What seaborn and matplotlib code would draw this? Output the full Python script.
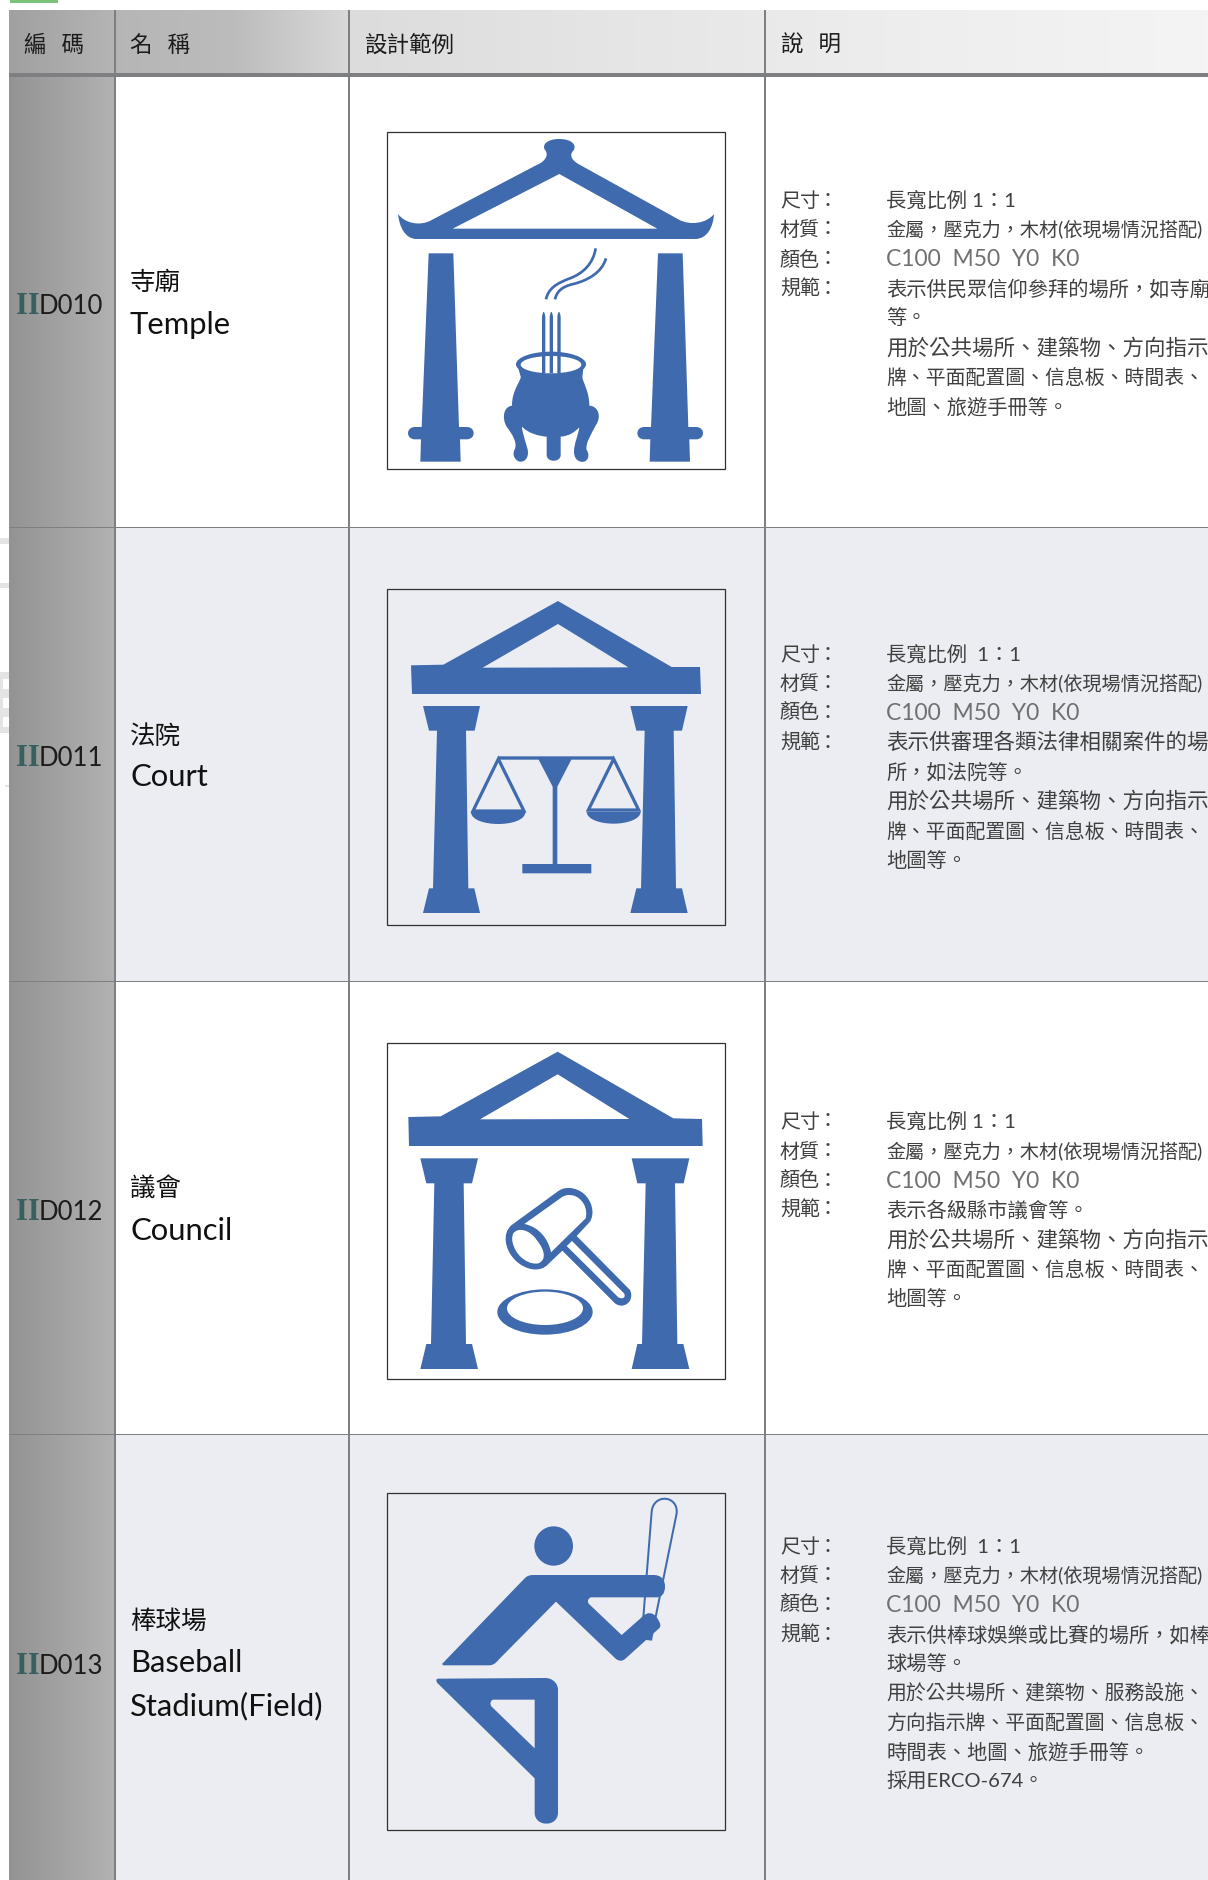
import re
import numpy as np
import matplotlib
matplotlib.use("Agg")
import matplotlib.pyplot as plt
from matplotlib.path import Path
from matplotlib.patches import PathPatch, Rectangle
from matplotlib.transforms import Affine2D
import seaborn as sns

sns.set_theme(style="white")

# ---------- table content ----------
HEADERS = ["編   碼", "名   稱", "設計範例", "說   明"]
CODES = ["D010", "D011", "D012", "D013"]
NAMES = [["寺廟", "Temple"], ["法院", "Court"], ["議會", "Council"], ["棒球場", "Baseball", "Stadium(Field)"]]
LABELS = ["尺寸：", "材質：", "顏色：", "規範："]
DESCS = [
    ["長寬比例 1：1", "金屬，壓克力，木材(依現場情況搭配)", "C100  M50  Y0  K0",
     "表示供民眾信仰參拜的場所，如寺廟", "等。", "用於公共場所、建築物、方向指示",
     "牌、平面配置圖、信息板、時間表、", "地圖、旅遊手冊等。"],
    ["長寬比例  1：1", "金屬，壓克力，木材(依現場情況搭配)", "C100  M50  Y0  K0",
     "表示供審理各類法律相關案件的場", "所，如法院等。", "用於公共場所、建築物、方向指示",
     "牌、平面配置圖、信息板、時間表、", "地圖等。"],
    ["長寬比例 1：1", "金屬，壓克力，木材(依現場情況搭配)", "C100  M50  Y0  K0",
     "表示各級縣市議會等。", "用於公共場所、建築物、方向指示",
     "牌、平面配置圖、信息板、時間表、", "地圖等。"],
    ["長寬比例  1：1", "金屬，壓克力，木材(依現場情況搭配)", "C100  M50  Y0  K0",
     "表示供棒球娛樂或比賽的場所，如棒", "球場等。", "用於公共場所、建築物、服務設施、",
     "方向指示牌、平面配置圖、信息板、", "時間表、地圖、旅遊手冊等。", "採用ERCO-674。"],
]

# ---------- layout ----------
W, H = 1208, 1880
BLUE = "#3f6aad"
LINE = "#7d7f82"
BAND = "#ebedf2"
COL_X = [9, 115, 349, 765]
ROW_Y = [77, 527, 981, 1434, 1880]
ROW_BG = ["white", BAND, "white", BAND]
BOX = [(387, 132, 338, 337), (387, 589, 338, 336), (387, 1043, 338, 336), (387, 1493, 338, 337)]
ICON_ORIGIN = [(370, 120), (370, 575), (370, 1030), (370, 1480)]
CODE_Y = [306, 759, 1212, 1666]
NAME_Y = [[283, 325], [737, 777], [1189, 1231], [1622, 1663, 1706]]
DESC_Y = [[201, 230, 260, 289, 318, 348, 377, 407],
          [655, 684, 713, 743, 772, 801, 831, 860],
          [1122, 1152, 1181, 1210, 1240, 1269, 1298],
          [1547, 1576, 1605, 1635, 1664, 1693, 1722, 1752, 1781]]

CJK = "Noto Sans CJK TC"
MIX = ["Lato", CJK, "DejaVu Sans"]

fig = plt.figure(figsize=(W / 100, H / 100), dpi=100, facecolor="white")
ax = fig.add_axes([0, 0, 1, 1])
ax.axis("off")


def gradient(x0, x1, y0, y1, stops):
    cmap = sns.blend_palette(stops, as_cmap=True)
    ax.imshow(np.linspace(0, 1, 256)[None, :], extent=(x0, x1, y1, y0), aspect="auto",
              cmap=cmap, zorder=1, interpolation="bilinear")


def rect(x0, y0, x1, y1, color, z=1.5):
    ax.add_patch(Rectangle((x0, y0), x1 - x0, y1 - y0, fc=color, ec="none", zorder=z))


# ---------- stray marks from the page ----------
rect(10, 0, 58, 3, "#7cc27a")
for x0, y0, x1, y1 in [(0, 538, 9, 544), (0, 583, 9, 588), (0, 672, 9, 733), (5, 785, 9, 787)]:
    rect(x0, y0, x1, y1, "#e4e4e4")
for y0, y1 in [(679, 689), (698, 708), (717, 727)]:
    rect(3, y0, 9, y1, "#ffffff", z=1.6)

# ---------- cells ----------
for i in range(4):
    rect(115, ROW_Y[i], W, ROW_Y[i + 1], ROW_BG[i])
gradient(9, 115, 77, H, ["#939393", "#b2b2b2"])
gradient(9, 349, 10, 73, ["#a0a0a0", "#b6b6b6", "#bcbcbc", "#d9d9d9"])
gradient(349, W, 10, 73, ["#dcdcdc", "#e6e6e6", "#eeeeee", "#f4f4f4"])
rect(9, 73, W, 77, LINE, z=3)
for x in COL_X[1:]:
    rect(x - 1, 10, x + 1, H, LINE, z=3)
for y in ROW_Y[1:4]:
    rect(9, y - 0.5, W, y + 1, LINE, z=3)

# ---------- header ----------
for txt, x in zip(HEADERS, [24, 130, 365, 781]):
    ax.text(x, 45, txt, family=CJK, fontsize=16.2, color="#1c1c1c", va="center", ha="left", zorder=5)


# ---------- pictograms (outlines in 3x crop units of each box) ----------
def parse(d):
    toks = re.findall(r"[MLCQZ]|-?\d+\.?\d*", d)
    verts, codes, i, cmd = [], [], 0, None
    while i < len(toks):
        if toks[i] in "MLCQZ":
            cmd = toks[i]
            i += 1
            if cmd == "Z":
                verts.append((0, 0))
                codes.append(Path.CLOSEPOLY)
            continue
        n = {"M": 1, "L": 1, "C": 3, "Q": 2}[cmd]
        code = {"M": Path.MOVETO, "L": Path.LINETO, "C": Path.CURVE4, "Q": Path.CURVE3}[cmd]
        for _ in range(n):
            verts.append((float(toks[i]), float(toks[i + 1])))
            codes.append(code)
            i += 2
    return Path(verts, codes)


def ell(cx, cy, rx, ry):
    k = 0.5523
    return (f"M {cx-rx} {cy} C {cx-rx} {cy-k*ry} {cx-k*rx} {cy-ry} {cx} {cy-ry} "
            f"C {cx+k*rx} {cy-ry} {cx+rx} {cy-k*ry} {cx+rx} {cy} "
            f"C {cx+rx} {cy+k*ry} {cx+k*rx} {cy+ry} {cx} {cy+ry} "
            f"C {cx-k*rx} {cy+ry} {cx-rx} {cy+k*ry} {cx-rx} {cy} Z")


def shape(origin, d, color=BLUE, dx=0, z=4):
    tr = Affine2D().translate(dx, 0).scale(1 / 3).translate(*origin) + ax.transData
    ax.add_patch(PathPatch(parse(d), fc=color, ec="none", transform=tr, zorder=z))


def stroke(origin, d, lw=2.7, z=4, join="miter"):
    tr = Affine2D().scale(1 / 3).translate(*origin) + ax.transData
    ax.add_patch(PathPatch(parse(d), fc="none", ec=BLUE, lw=lw * 0.72, transform=tr, zorder=z, joinstyle=join))


for (bx, by, bw, bh) in BOX:
    ax.add_patch(Rectangle((bx, by), bw, bh, fc="none", ec="#303030", lw=0.9, zorder=6))

# temple
o = ICON_ORIGIN[0]
shape(o, "M 84 282 C 105 310 150 320 185 300 L 500 135 C 525 125 538 105 525 90 C 515 75 530 57 568 57 "
         "C 605 57 622 75 610 92 C 597 105 605 120 625 132 L 925 298 C 960 318 1010 310 1032 282 "
         "C 1030 320 1012 357 975 357 L 140 357 C 105 357 88 320 84 282 Z")
shape(o, "M 248 326 L 568 162 L 862 326 Z", "white", z=4.1)
PILLAR = ("M 176 400 L 250 400 L 267 921 L 290 921 C 318 921 318 958 290 958 L 270 958 L 272 1025 L 151 1025 "
          "L 153 958 L 135 958 C 107 958 107 921 135 921 L 155 921 Z")
shape(o, PILLAR)
shape(o, PILLAR, dx=688)
shape(o, "M 452 770 C 455 780 425 810 426 857 C 400 860 395 895 410 920 C 425 940 445 970 433 990 "
         "C 425 1010 440 1025 452 1025 C 470 1025 478 1005 472 985 C 465 960 455 930 456 920 "
         "C 475 940 505 948 530 950 L 530 1005 C 530 1028 572 1028 572 1005 L 572 950 "
         "C 600 948 615 935 628 922 C 625 945 612 970 612 995 C 612 1020 630 1028 642 1025 "
         "C 658 1020 658 1000 650 990 C 645 970 665 940 678 915 C 695 890 685 858 658 857 "
         "C 658 815 640 790 637 772 L 640 745 L 445 745 Z")
shape(o, ell(543, 733, 105, 38))
shape(o, ell(543, 734, 91, 26), "white", z=4.1)
for sx in (521, 544, 567):
    shape(o, f"M {sx-5} 590 Q {sx} 560 {sx+5} 590 L {sx+5} 760 L {sx-5} 760 Z", z=4.2)
stroke(o, "M 677 385 C 670 430 640 460 600 475 C 560 490 535 505 528 538")
stroke(o, "M 708 415 C 695 460 650 482 610 492 C 575 500 560 515 555 538")

# court
o = ICON_ORIGIN[1]
shape(o, "M 123 271 L 220 269 L 564 78 L 905 276 L 990 276 L 993 357 L 126 357 Z")
shape(o, "M 338 278 L 564 147 L 775 277 Z", BAND, z=4.1)
shape(o, "M 159 393 L 330 393 L 314 467 L 288 467 L 295 940 L 313 940 L 330 1014 L 159 1014 L 177 940 "
         "L 189 940 L 201 467 L 177 467 Z")
shape(o, "M 781 393 L 953 393 L 936 467 L 911 467 L 918 940 L 936 940 L 953 1014 L 781 1014 L 799 940 "
         "L 813 940 L 824 467 L 799 467 Z")
shape(o, "M 385 544 L 731 544 L 731 554 L 604 554 L 562 635 L 562 867 L 664 867 L 664 895 L 457 895 "
         "L 457 867 L 548 867 L 548 635 L 506 554 L 385 554 Z")
stroke(o, "M 385 552 L 309 708 L 462 708 Z", lw=3.2)
stroke(o, "M 731 552 L 655 705 L 806 705 Z", lw=3.2)
shape(o, "M 303 711 L 466 711 C 466 735 425 747 385 747 C 345 747 303 735 303 711 Z")
shape(o, "M 650 710 L 812 710 C 812 733 770 746 731 746 C 690 746 650 733 650 710 Z")

# council
o = ICON_ORIGIN[2]
shape(o, "M 115 261 L 212 259 L 563 65 L 910 265 L 996 267 L 998 348 L 117 348 Z")
shape(o, "M 330 268 L 563 133 L 778 267 Z", "white", z=4.1)
shape(o, "M 151 385 L 324 385 L 306 460 L 281 460 L 288 942 L 306 942 L 324 1017 L 151 1017 L 169 942 "
         "L 183 942 L 193 460 L 169 460 Z")
shape(o, "M 785 385 L 958 385 L 941 460 L 915 460 L 922 942 L 940 942 L 958 1017 L 785 1017 L 802 942 "
         "L 816 942 L 827 460 L 802 460 Z")
shape(o, "M 425 585 L 565 483 C 590 465 630 475 650 500 C 670 525 672 555 660 575 L 620 618 L 780 780 "
         "C 790 800 780 825 755 827 C 745 827 735 822 730 815 L 577 662 L 535 702 C 510 730 465 720 435 690 "
         "C 405 660 395 610 425 585 Z")
shape(o, "M 463 582 L 575 502 C 595 488 625 495 640 520 C 650 535 650 552 647 565 L 543 667 "
         "C 535 625 505 590 463 582 Z", "white", z=4.1)
shape(o, "M 430 610 C 445 590 480 600 500 630 C 525 660 530 690 505 700 C 480 705 445 685 432 650 "
         "C 425 635 425 620 430 610 Z", "white", z=4.1)
shape(o, "M 606 633 L 762 790 C 768 800 760 810 745 802 L 590 648 Z", "white", z=4.1)
shape(o, ell(525, 846, 143, 68))
shape(o, ell(525, 835, 114, 50), "white", z=4.1)

# baseball
o = ICON_ORIGIN[3]
shape(o, ell(551, 198, 58, 59))
stroke(o, "M 820 412 L 845 95 C 850 40 925 45 920 100 L 853 430", lw=2.0)
shape(o, "M 216 552 L 462 297 C 470 288 478 285 490 285 L 850 285 C 875 285 885 300 885 320 "
         "C 885 340 875 352 860 352 L 665 352 C 655 352 650 365 657 372 L 755 465 L 815 412 "
         "C 830 395 850 395 862 415 C 872 430 875 440 865 447 L 765 537 C 755 545 748 543 738 537 "
         "L 558 365 L 385 540 C 375 552 368 556 355 556 L 220 556 Z")
shape(o, "M 828 460 L 852 450 L 846 482 L 828 480 Z")
shape(o, "M 205 596 L 525 594 C 548 594 564 610 564 630 L 564 998 C 564 1042 494 1042 494 998 L 494 895 "
         "L 203 610 C 197 603 198 596 205 596 Z")
shape(o, "M 370 659 L 494 659 L 494 805 L 365 680 C 358 672 362 660 370 659 Z", BAND, z=4.1)


# ---------- codes, names, descriptions ----------
def desc_size(txt):
    if txt.startswith("C100"):
        return 16.5
    if txt.startswith("金屬"):
        return 13.8
    if txt.startswith("用於公共場所、建築物、方向") or txt.startswith("表示供審理"):
        return 15.5
    if txt.startswith(("牌", "方向", "用於")):
        return 14.3
    return 14.6


for i in range(4):
    ax.text(16, CODE_Y[i], "II", family="Liberation Serif", weight="bold", fontsize=22,
            color="#37605e", va="center", ha="left", zorder=5)
    ax.text(39, CODE_Y[i], CODES[i], family="Lato", fontsize=18.5,
            color="#1c1c1c", va="center", ha="left", zorder=5)
    for txt, y in zip(NAMES[i], NAME_Y[i]):
        cjk = ord(txt[0]) > 255
        ax.text(130, y, txt, family=CJK if cjk else "Lato",
                fontsize=18.4 if cjk else 22.3, color="#111111", va="center", ha="left", zorder=5)
    for lab, y in zip(LABELS, DESC_Y[i]):
        ax.text(780, y, lab[:2], family=CJK, fontsize=14.4, color="#404040", va="center", ha="left", zorder=5)
        ax.text(818, y, "：", family=CJK, fontsize=14.4, color="#404040", va="center", ha="left", zorder=5)
    for txt, y in zip(DESCS[i], DESC_Y[i]):
        ascii_line = txt.startswith("C100")
        ax.text(886, y, txt, family=MIX, fontsize=desc_size(txt),
                color="#707070" if ascii_line else "#404040", va="center", ha="left", zorder=5)

ax.set_xlim(0, W)
ax.set_ylim(H, 0)
fig.savefig("out.png", dpi=100, facecolor="white")
